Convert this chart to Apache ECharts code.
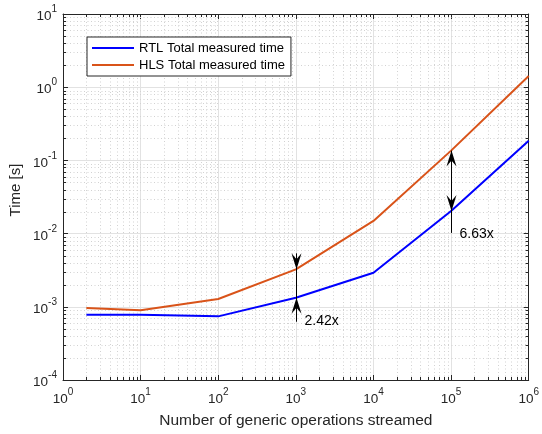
<!DOCTYPE html>
<html><head><meta charset="utf-8">
<script src="https://cdn.jsdelivr.net/npm/echarts@6/dist/echarts.min.js"></script>
<style>html,body{margin:0;padding:0;background:#fff}#c{width:542px;height:434px}</style>
</head><body><div id="c"></div>
<script>
// ---- data ----
const xValues = [2, 10, 100, 1000, 10000, 100000, 1000000];
const rtlTime = [7.8e-4, 7.8e-4, 7.4e-4, 1.33e-3, 2.92e-3, 2.04e-2, 0.186];
const hlsTime = [9.6e-4, 9.0e-4, 1.28e-3, 3.25e-3, 1.49e-2, 0.136, 1.42];
const seriesNames = ['RTL Total measured time', 'HLS Total measured time'];
const annX = [1000, 100000];
const annText = ['2.42x', '6.63x'];
const xRange = [1, 1e6];
const yRange = [1e-4, 10];
const xTitle = 'Number of generic operations streamed';
const yTitle = 'Time [s]';

// ---- style ----
const FONT = "'Liberation Sans', Arial, Helvetica, sans-serif";
const AX = '#262626';
const annMode = ['inward', 'outward'];

function minors(lo, hi) {
  const out = [];
  for (let e = Math.round(Math.log10(lo)); e < Math.round(Math.log10(hi)); e++)
    for (let m = 2; m <= 9; m++) out.push(m * Math.pow(10, e));
  return out;
}
const xMinor = minors(xRange[0], xRange[1]);
const yMinor = minors(yRange[0], yRange[1]);

function powLabel(v) {
  const e = Math.round(Math.log10(v));
  return '{b|10}{e|' + e + '}';
}
const rich = {
  b: { fontSize: 13.5, fontFamily: FONT, color: AX, verticalAlign: 'bottom' },
  e: { fontSize: 10, fontFamily: FONT, color: AX, verticalAlign: 'top', padding: [0, 0, 9, 0] }
};
const crisp = v => Math.round(v) + 0.5;
const MINOR = '#d2d2d2';

function axisBase(extra) {
  return Object.assign({
    type: 'log', logBase: 10,
    axisLine: { show: true, onZero: false, lineStyle: { color: AX, width: 1 } },
    axisTick: { show: true, inside: true, length: 5, lineStyle: { color: AX, width: 1 } },
    splitLine: { show: false },
    axisLabel: { show: false }
  }, extra);
}

const chart = echarts.init(document.getElementById('c'), null, { renderer: 'canvas' });
chart.setOption({
  backgroundColor: '#fff',
  animation: false,
  grid: { left: 63, right: 11, top: 14, bottom: 54, containLabel: false },
  xAxis: [
    axisBase({
      min: xRange[0], max: xRange[1], position: 'bottom',
      splitLine: { show: true, lineStyle: { color: '#e2e2e2', width: 1 } },
      axisLabel: { show: true, formatter: powLabel, rich: rich, margin: 7, showMinLabel: true, showMaxLabel: true },
      name: xTitle, nameLocation: 'middle', nameGap: 33,
      nameTextStyle: { fontSize: 15.5, color: AX, fontFamily: FONT }
    }),
    axisBase({ min: xRange[0], max: xRange[1], position: 'top' })
  ],
  yAxis: [
    axisBase({
      min: yRange[0], max: yRange[1], position: 'left',
      splitLine: { show: true, lineStyle: { color: '#e2e2e2', width: 1 } },
      axisLabel: { show: true, formatter: powLabel, rich: rich, margin: 6, showMinLabel: true, showMaxLabel: true }
    }),
    axisBase({ min: yRange[0], max: yRange[1], position: 'right' })
  ],
  legend: {
    orient: 'vertical', left: 87, top: 37,
    padding: [4, 6, 4, 5], itemGap: 3,
    itemWidth: 42, itemHeight: 2, icon: 'rect',
    borderColor: AX, borderWidth: 1, backgroundColor: '#fff',
    textStyle: { fontSize: 13, color: '#000', fontFamily: FONT, lineHeight: 14 },
    data: seriesNames
  },
  graphic: [{
    type: 'text', x: 16, y: 190, rotation: Math.PI / 2,
    style: { text: yTitle, font: '15px ' + FONT, fill: AX, align: 'center', verticalAlign: 'middle' }
  }],
  series: [
    {
      type: 'custom', silent: true, z: 1, xAxisIndex: 0, yAxisIndex: 0,
      data: xMinor.map(v => [v, yRange[0]]),
      renderItem(params, api) {
        const v = api.value(0);
        const p0 = api.coord([v, yRange[0]]), p1 = api.coord([v, yRange[1]]);
        const x = crisp(p0[0]);
        return { type: 'group', children: [
          { type: 'line', shape: { x1: x, y1: p0[1], x2: x, y2: p1[1] }, style: { stroke: MINOR, lineWidth: 1, lineDash: [1, 2.5] } },
          { type: 'line', shape: { x1: x, y1: p0[1], x2: x, y2: p0[1] - 3 }, style: { stroke: AX, lineWidth: 1 } },
          { type: 'line', shape: { x1: x, y1: p1[1], x2: x, y2: p1[1] + 3 }, style: { stroke: AX, lineWidth: 1 } }
        ] };
      }
    },
    {
      type: 'custom', silent: true, z: 1, xAxisIndex: 0, yAxisIndex: 0,
      data: yMinor.map(v => [xRange[0], v]),
      renderItem(params, api) {
        const v = api.value(1);
        const p0 = api.coord([xRange[0], v]), p1 = api.coord([xRange[1], v]);
        const y = crisp(p0[1]);
        return { type: 'group', children: [
          { type: 'line', shape: { x1: p0[0], y1: y, x2: p1[0], y2: y }, style: { stroke: MINOR, lineWidth: 1, lineDash: [1, 2.5] } },
          { type: 'line', shape: { x1: p0[0], y1: y, x2: p0[0] + 3, y2: y }, style: { stroke: AX, lineWidth: 1 } },
          { type: 'line', shape: { x1: p1[0], y1: y, x2: p1[0] - 3, y2: y }, style: { stroke: AX, lineWidth: 1 } }
        ] };
      }
    },
    {
      name: seriesNames[0], type: 'line', z: 3, symbol: 'none',
      data: xValues.map((x, i) => [x, rtlTime[i]]),
      lineStyle: { color: '#0000ff', width: 2 }, itemStyle: { color: '#0000ff' }
    },
    {
      name: seriesNames[1], type: 'line', z: 3, symbol: 'none',
      data: xValues.map((x, i) => [x, hlsTime[i]]),
      lineStyle: { color: '#d95319', width: 2 }, itemStyle: { color: '#d95319' }
    },
    {
      type: 'custom', silent: true, z: 5, xAxisIndex: 0, yAxisIndex: 0,
      data: annX.map((x, i) => [x, rtlTime[xValues.indexOf(x)], hlsTime[xValues.indexOf(x)], i]),
      renderItem(params, api) {
        const x = api.value(0), i = api.value(3);
        const pb = api.coord([x, api.value(1)]), po = api.coord([x, api.value(2)]);
        const px = crisp(pb[0]);
        const head = (ty, dir) => ({
          type: 'polygon',
          shape: { points: [[px, ty], [px - 5, ty - 16 * dir], [px, ty - 10 * dir], [px + 5, ty - 16 * dir]] },
          style: { fill: '#000' }
        });
        let ch;
        if (annMode[i] === 'inward') {
          ch = [
            { type: 'line', shape: { x1: px, y1: po[1] - 16, x2: px, y2: pb[1] + 24 }, style: { stroke: '#000', lineWidth: 1 } },
            head(po[1], 1), head(pb[1], -1)
          ];
        } else {
          ch = [
            { type: 'line', shape: { x1: px, y1: po[1], x2: px, y2: pb[1] + 22 }, style: { stroke: '#000', lineWidth: 1 } },
            head(po[1], -1), head(pb[1], 1)
          ];
        }
        ch.push({ type: 'text', x: px + 8, y: pb[1] + 23,
          style: { text: annText[i], font: '14px ' + FONT, fill: '#000', verticalAlign: 'middle', align: 'left' } });
        return { type: 'group', children: ch };
      }
    }
  ]
});
</script></body></html>
